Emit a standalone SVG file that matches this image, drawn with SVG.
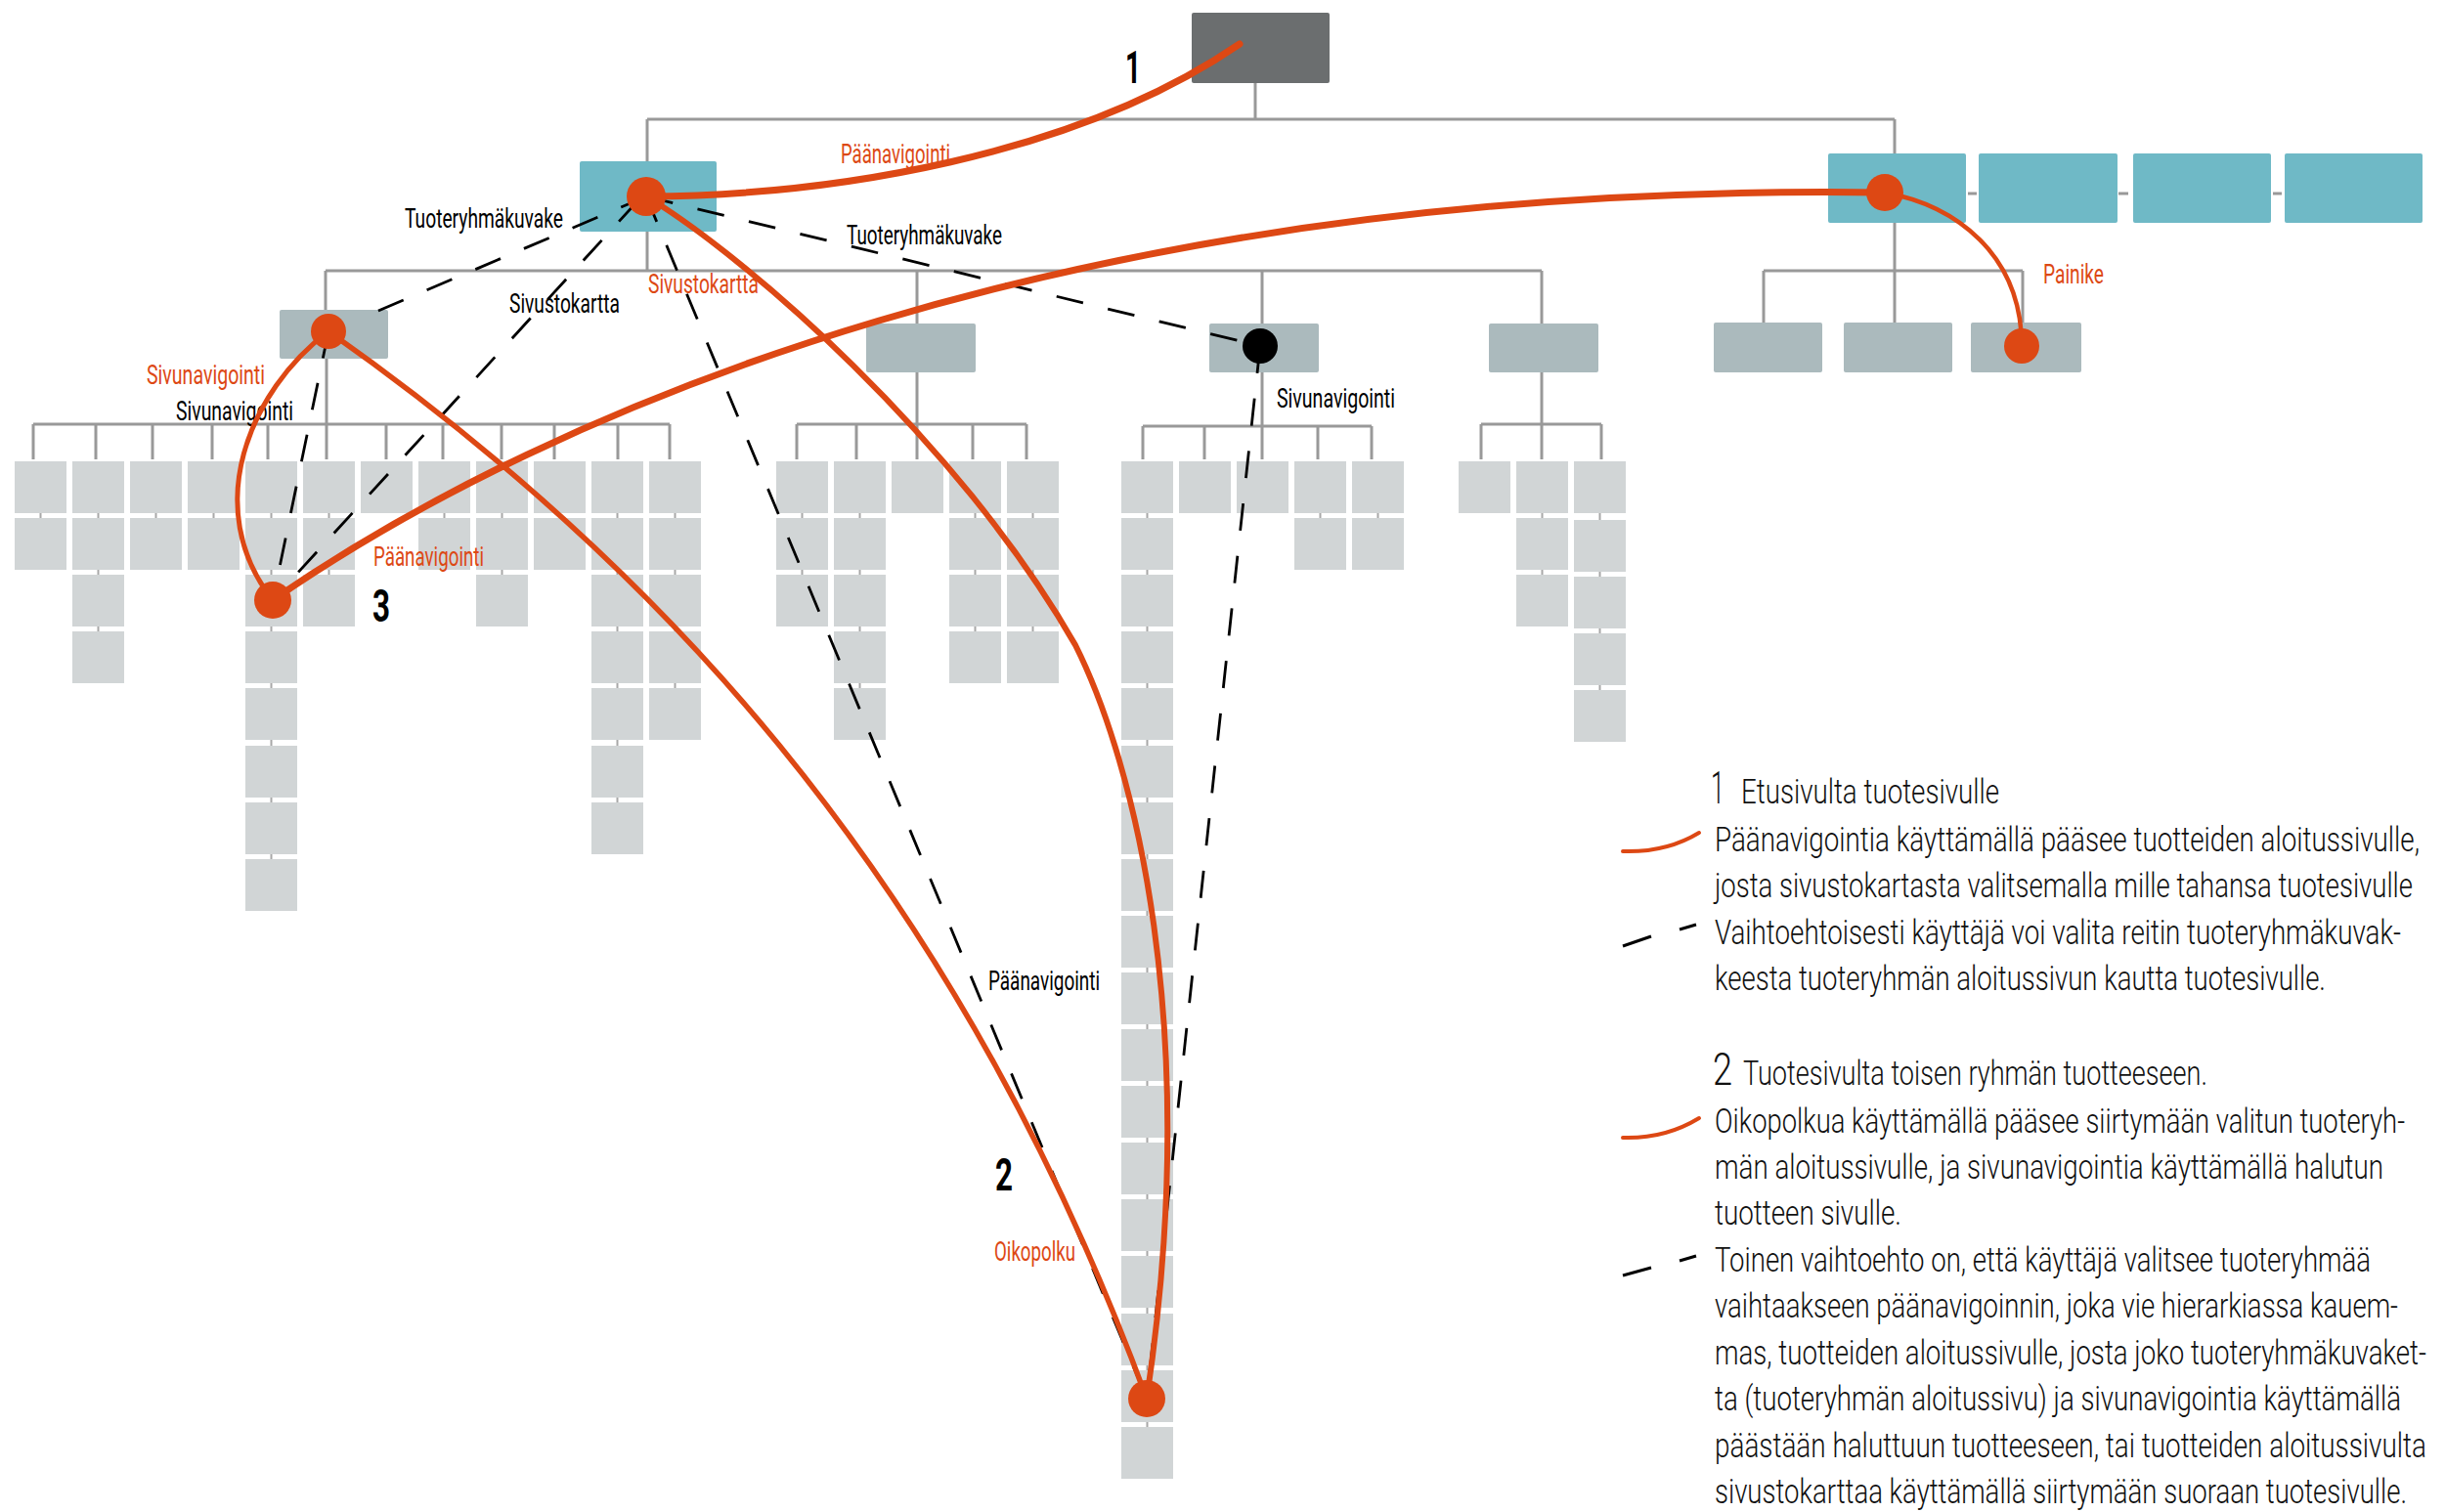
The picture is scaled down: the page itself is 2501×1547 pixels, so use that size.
<svg xmlns="http://www.w3.org/2000/svg" width="2501" height="1547" viewBox="0 0 2501 1547">
<style>
.top{fill:#6b6e6f}
.grp{fill:#6fb9c6}
.sub{fill:#abbabd}
.leaf{fill:#d1d5d6}
.tree{stroke:#999;stroke-width:3;fill:none}
.gap{stroke:#a8a8a8;stroke-width:2;fill:none}
.route{stroke:#dd4814;stroke-width:6;fill:none;stroke-linecap:round}
.alt{stroke:#000;stroke-width:2.8;stroke-dasharray:28 26;fill:none}
.dot{fill:#dd4814}
.lbl{font-family:Roboto,"Liberation Sans",sans-serif;font-size:28px;fill:#000}
.red{fill:#dd4814}
.num{font-family:Roboto,"Liberation Sans",sans-serif;font-size:46px;font-weight:bold;fill:#000}
.leg{font-family:Roboto,"Liberation Sans",sans-serif;font-size:35px;font-weight:300;fill:#111}
.legnum{font-family:Roboto,"Liberation Sans",sans-serif;font-size:47px;font-weight:300;fill:#111}
</style>
<rect width="2501" height="1547" fill="#fff"/>

<!-- tree structure lines -->
<g id="connectors">
<path class="tree" d="M1284 85V122M662 122H1938M662 122V165M1938 122V157M662 237V277M333 277H1577M333 277V317M938 277V331M1291 277V331M1577 277V331M1938 228V277M1804 277H2069M1804 277V330M1938 277V330M2069 277V330M2013 198H2022M2167 198H2177M2325 198H2334"/>
<path class="tree" d="M334 367V434M34 434H685M34 434V470M98 434V470M156 434V470M217 434V470M274 434V470M334 434V470M395 434V470M453 434V470M513 434V470M567 434V470M632 434V470M685 434V470"/>
<path class="tree" d="M938 381V434M815 434H1050M815 434V470M876 434V470M938 434V470M995 434V470M1050 434V470"/>
<path class="tree" d="M1291 381V436M1169 436H1403M1169 436V470M1232 436V470M1291 436V470M1348 436V470M1403 436V470"/>
<path class="tree" d="M1577 381V434M1515 434H1638M1515 434V470M1577 434V470M1638 434V470"/>
<path class="gap" d="M41.5 500V540M100.5 500V656M159.5 500V540M218.5 500V540M277.5 500V889M336.5 500V598M454.5 500V540M513.5 500V598M572.5 500V540M631.5 500V831M690.5 500V714M820.5 500V598M879.5 500V714M997.5 500V656M1056.5 500V656M1173.5 500V1470M1350.5 500V540M1409.5 500V540M1577.5 500V598M1636.5 500V714"/>
</g>

<!-- home page -->
<g id="home"><rect class="top" x="1219" y="13" width="141" height="72" rx="2"/></g>

<!-- product group level -->
<g id="products"><rect class="grp" x="593" y="165" width="140" height="72" rx="2"/></g>
<g id="section-b"><rect class="grp" x="1870" y="157" width="141" height="71" rx="2"/></g>
<g id="section-c"><rect class="grp" x="2024" y="157" width="142" height="71" rx="2"/></g>
<g id="section-d"><rect class="grp" x="2182" y="157" width="141" height="71" rx="2"/></g>
<g id="section-e"><rect class="grp" x="2337" y="157" width="141" height="71" rx="2"/></g>

<!-- group start pages -->
<g id="group-a"><rect class="sub" x="286" y="317" width="111" height="50" rx="2"/></g>
<g id="group-b"><rect class="sub" x="886" y="331" width="112" height="50" rx="2"/></g>
<g id="group-c"><rect class="sub" x="1237" y="331" width="112" height="50" rx="2"/></g>
<g id="group-d"><rect class="sub" x="1523" y="331" width="112" height="50" rx="2"/></g>
<g id="sub-b1"><rect class="sub" x="1753" y="330" width="111" height="51" rx="2"/></g>
<g id="sub-b2"><rect class="sub" x="1886" y="330" width="111" height="51" rx="2"/></g>
<g id="sub-b3"><rect class="sub" x="2016" y="330" width="113" height="51" rx="2"/></g>

<!-- product pages, group A -->
<g id="a1-1"><rect class="leaf" x="15" y="472" width="53" height="53"/></g>
<g id="a1-2"><rect class="leaf" x="15" y="530" width="53" height="53"/></g>
<g id="a2-1"><rect class="leaf" x="74" y="472" width="53" height="53"/></g>
<g id="a2-2"><rect class="leaf" x="74" y="530" width="53" height="53"/></g>
<g id="a2-3"><rect class="leaf" x="74" y="588" width="53" height="53"/></g>
<g id="a2-4"><rect class="leaf" x="74" y="646" width="53" height="53"/></g>
<g id="a3-1"><rect class="leaf" x="133" y="472" width="53" height="53"/></g>
<g id="a3-2"><rect class="leaf" x="133" y="530" width="53" height="53"/></g>
<g id="a4-1"><rect class="leaf" x="192" y="472" width="53" height="53"/></g>
<g id="a4-2"><rect class="leaf" x="192" y="530" width="53" height="53"/></g>
<g id="a5-1"><rect class="leaf" x="251" y="472" width="53" height="53"/></g>
<g id="a5-2"><rect class="leaf" x="251" y="530" width="53" height="53"/></g>
<g id="a5-3"><rect class="leaf" x="251" y="588" width="53" height="53"/></g>
<g id="a5-4"><rect class="leaf" x="251" y="646" width="53" height="53"/></g>
<g id="a5-5"><rect class="leaf" x="251" y="704" width="53" height="53"/></g>
<g id="a5-6"><rect class="leaf" x="251" y="763" width="53" height="53"/></g>
<g id="a5-7"><rect class="leaf" x="251" y="821" width="53" height="53"/></g>
<g id="a5-8"><rect class="leaf" x="251" y="879" width="53" height="53"/></g>
<g id="a6-1"><rect class="leaf" x="310" y="472" width="53" height="53"/></g>
<g id="a6-2"><rect class="leaf" x="310" y="530" width="53" height="53"/></g>
<g id="a6-3"><rect class="leaf" x="310" y="588" width="53" height="53"/></g>
<g id="a7-1"><rect class="leaf" x="369" y="472" width="53" height="53"/></g>
<g id="a8-1"><rect class="leaf" x="428" y="472" width="53" height="53"/></g>
<g id="a8-2"><rect class="leaf" x="428" y="530" width="53" height="53"/></g>
<g id="a9-1"><rect class="leaf" x="487" y="472" width="53" height="53"/></g>
<g id="a9-2"><rect class="leaf" x="487" y="530" width="53" height="53"/></g>
<g id="a9-3"><rect class="leaf" x="487" y="588" width="53" height="53"/></g>
<g id="a10-1"><rect class="leaf" x="546" y="472" width="53" height="53"/></g>
<g id="a10-2"><rect class="leaf" x="546" y="530" width="53" height="53"/></g>
<g id="a11-1"><rect class="leaf" x="605" y="472" width="53" height="53"/></g>
<g id="a11-2"><rect class="leaf" x="605" y="530" width="53" height="53"/></g>
<g id="a11-3"><rect class="leaf" x="605" y="588" width="53" height="53"/></g>
<g id="a11-4"><rect class="leaf" x="605" y="646" width="53" height="53"/></g>
<g id="a11-5"><rect class="leaf" x="605" y="704" width="53" height="53"/></g>
<g id="a11-6"><rect class="leaf" x="605" y="763" width="53" height="53"/></g>
<g id="a11-7"><rect class="leaf" x="605" y="821" width="53" height="53"/></g>
<g id="a12-1"><rect class="leaf" x="664" y="472" width="53" height="53"/></g>
<g id="a12-2"><rect class="leaf" x="664" y="530" width="53" height="53"/></g>
<g id="a12-3"><rect class="leaf" x="664" y="588" width="53" height="53"/></g>
<g id="a12-4"><rect class="leaf" x="664" y="646" width="53" height="53"/></g>
<g id="a12-5"><rect class="leaf" x="664" y="704" width="53" height="53"/></g>

<!-- product pages, group B -->
<g id="b1-1"><rect class="leaf" x="794" y="472" width="53" height="53"/></g>
<g id="b1-2"><rect class="leaf" x="794" y="530" width="53" height="53"/></g>
<g id="b1-3"><rect class="leaf" x="794" y="588" width="53" height="53"/></g>
<g id="b2-1"><rect class="leaf" x="853" y="472" width="53" height="53"/></g>
<g id="b2-2"><rect class="leaf" x="853" y="530" width="53" height="53"/></g>
<g id="b2-3"><rect class="leaf" x="853" y="588" width="53" height="53"/></g>
<g id="b2-4"><rect class="leaf" x="853" y="646" width="53" height="53"/></g>
<g id="b2-5"><rect class="leaf" x="853" y="704" width="53" height="53"/></g>
<g id="b3-1"><rect class="leaf" x="912" y="472" width="53" height="53"/></g>
<g id="b4-1"><rect class="leaf" x="971" y="472" width="53" height="53"/></g>
<g id="b4-2"><rect class="leaf" x="971" y="530" width="53" height="53"/></g>
<g id="b4-3"><rect class="leaf" x="971" y="588" width="53" height="53"/></g>
<g id="b4-4"><rect class="leaf" x="971" y="646" width="53" height="53"/></g>
<g id="b5-1"><rect class="leaf" x="1030" y="472" width="53" height="53"/></g>
<g id="b5-2"><rect class="leaf" x="1030" y="530" width="53" height="53"/></g>
<g id="b5-3"><rect class="leaf" x="1030" y="588" width="53" height="53"/></g>
<g id="b5-4"><rect class="leaf" x="1030" y="646" width="53" height="53"/></g>

<!-- product pages, group C -->
<g id="c1-1"><rect class="leaf" x="1147" y="472" width="53" height="53"/></g>
<g id="c1-2"><rect class="leaf" x="1147" y="530" width="53" height="53"/></g>
<g id="c1-3"><rect class="leaf" x="1147" y="588" width="53" height="53"/></g>
<g id="c1-4"><rect class="leaf" x="1147" y="646" width="53" height="53"/></g>
<g id="c1-5"><rect class="leaf" x="1147" y="704" width="53" height="53"/></g>
<g id="c1-6"><rect class="leaf" x="1147" y="763" width="53" height="53"/></g>
<g id="c1-7"><rect class="leaf" x="1147" y="821" width="53" height="53"/></g>
<g id="c1-8"><rect class="leaf" x="1147" y="879" width="53" height="53"/></g>
<g id="c1-9"><rect class="leaf" x="1147" y="937" width="53" height="53"/></g>
<g id="c1-10"><rect class="leaf" x="1147" y="995" width="53" height="53"/></g>
<g id="c1-11"><rect class="leaf" x="1147" y="1053" width="53" height="53"/></g>
<g id="c1-12"><rect class="leaf" x="1147" y="1111" width="53" height="53"/></g>
<g id="c1-13"><rect class="leaf" x="1147" y="1169" width="53" height="53"/></g>
<g id="c1-14"><rect class="leaf" x="1147" y="1227" width="53" height="53"/></g>
<g id="c1-15"><rect class="leaf" x="1147" y="1285" width="53" height="53"/></g>
<g id="c1-16"><rect class="leaf" x="1147" y="1344" width="53" height="53"/></g>
<g id="c1-17"><rect class="leaf" x="1147" y="1402" width="53" height="53"/></g>
<g id="c1-18"><rect class="leaf" x="1147" y="1460" width="53" height="53"/></g>
<g id="c2-1"><rect class="leaf" x="1206" y="472" width="53" height="53"/></g>
<g id="c3-1"><rect class="leaf" x="1265" y="472" width="53" height="53"/></g>
<g id="c4-1"><rect class="leaf" x="1324" y="472" width="53" height="53"/></g>
<g id="c4-2"><rect class="leaf" x="1324" y="530" width="53" height="53"/></g>
<g id="c5-1"><rect class="leaf" x="1383" y="472" width="53" height="53"/></g>
<g id="c5-2"><rect class="leaf" x="1383" y="530" width="53" height="53"/></g>

<!-- product pages, group D -->
<g id="d1-1"><rect class="leaf" x="1492" y="472" width="53" height="53"/></g>
<g id="d2-1"><rect class="leaf" x="1551" y="472" width="53" height="53"/></g>
<g id="d2-2"><rect class="leaf" x="1551" y="530" width="53" height="53"/></g>
<g id="d2-3"><rect class="leaf" x="1551" y="588" width="53" height="53"/></g>
<g id="d3-1"><rect class="leaf" x="1610" y="472" width="53" height="53"/></g>
<g id="d3-2"><rect class="leaf" x="1610" y="532" width="53" height="53"/></g>
<g id="d3-3"><rect class="leaf" x="1610" y="590" width="53" height="53"/></g>
<g id="d3-4"><rect class="leaf" x="1610" y="648" width="53" height="53"/></g>
<g id="d3-5"><rect class="leaf" x="1610" y="706" width="53" height="53"/></g>

<!-- path labels -->
<g id="labels">
<text class="lbl" x="414" y="233" textLength="162" lengthAdjust="spacingAndGlyphs">Tuoteryhmäkuvake</text>
<text class="lbl" x="866" y="250" textLength="159" lengthAdjust="spacingAndGlyphs">Tuoteryhmäkuvake</text>
<text class="lbl" x="521" y="320" textLength="113" lengthAdjust="spacingAndGlyphs">Sivustokartta</text>
<text class="lbl red" x="663" y="300" textLength="113" lengthAdjust="spacingAndGlyphs">Sivustokartta</text>
<text class="lbl red" x="860" y="167" textLength="112" lengthAdjust="spacingAndGlyphs">Päänavigointi</text>
<text class="lbl red" x="150" y="393" textLength="121" lengthAdjust="spacingAndGlyphs">Sivunavigointi</text>
<text class="lbl" x="180" y="430" textLength="120" lengthAdjust="spacingAndGlyphs">Sivunavigointi</text>
<text class="lbl" x="1306" y="417" textLength="121" lengthAdjust="spacingAndGlyphs">Sivunavigointi</text>
<text class="lbl red" x="382" y="579" textLength="113" lengthAdjust="spacingAndGlyphs">Päänavigointi</text>
<text class="lbl" x="1011" y="1013" textLength="114" lengthAdjust="spacingAndGlyphs">Päänavigointi</text>
<text class="lbl red" x="1017" y="1290" textLength="83" lengthAdjust="spacingAndGlyphs">Oikopolku</text>
<text class="lbl red" x="2090" y="290" textLength="62" lengthAdjust="spacingAndGlyphs">Painike</text>
<text class="num" x="1151" y="85" textLength="16" lengthAdjust="spacingAndGlyphs">1</text>
<text class="num" x="1018" y="1218" textLength="18" lengthAdjust="spacingAndGlyphs">2</text>
<text class="num" x="381" y="636" textLength="18" lengthAdjust="spacingAndGlyphs">3</text>
</g>

<!-- navigation routes -->
<g id="routes">
<path class="alt" d="M661 201L380 321"/>
<path class="alt" d="M661 201L1289 354"/>
<path class="alt" d="M652 206L279 614"/>
<path class="alt" d="M336 339L279 614"/>
<path class="alt" d="M661 201L1173 1431"/>
<path class="alt" d="M1289 354L1173 1431"/>
<path class="route" style="stroke-width:7" d="M661 201C850 200 1100 160 1268 45"/>
<path class="route" style="stroke-width:7" d="M279 614C560 420 1100 185 1928 197"/>
<path class="route" style="stroke-width:4.5" d="M1928 197C2000 210 2068 260 2068 354"/>
<path class="route" style="stroke-width:5" d="M336 339C255 400 205 520 279 614"/>
<path class="route" style="stroke-width:5.5" d="M336 339C650 560 970 880 1173 1431"/>
<path class="route" d="M661 201C760 260 980 450 1100 660C1160 780 1230 1050 1173 1431"/>
<circle class="dot" cx="661" cy="201" r="20"/>
<circle class="dot" cx="1928" cy="197" r="19"/>
<circle class="dot" cx="2068" cy="354" r="18"/>
<circle class="dot" cx="336" cy="339" r="18"/>
<circle class="dot" cx="279" cy="614" r="19"/>
<circle class="dot" cx="1173" cy="1431" r="19"/>
<circle cx="1289" cy="354" r="18" fill="#000"/>
</g>

<!-- legend -->
<g id="legend">
<path class="route" style="stroke-width:4" d="M1660 871C1690 872 1715 866 1738 852"/>
<path class="route" style="stroke-width:4" d="M1660 1164C1690 1165 1715 1158 1738 1144"/>
<path stroke="#000" stroke-width="3" d="M1660 968L1689 958M1718 951L1735 946M1660 1305L1689 1297M1718 1290L1735 1285"/>
<g transform="matrix(0.72 0 0 1 1754 0)">
<text class="legnum" x="-5.6" y="822" textLength="19.4" lengthAdjust="spacingAndGlyphs">1</text>
<text class="leg" x="37.5" y="822" textLength="366.7" lengthAdjust="spacingAndGlyphs">Etusivulta tuotesivulle</text>
<text class="leg" x="0" y="871" textLength="1001.4" lengthAdjust="spacingAndGlyphs">Päänavigointia käyttämällä pääsee tuotteiden aloitussivulle,</text>
<text class="leg" x="0" y="918" textLength="991.7" lengthAdjust="spacingAndGlyphs">josta sivustokartasta valitsemalla mille tahansa tuotesivulle</text>
<text class="leg" x="0" y="966" textLength="975" lengthAdjust="spacingAndGlyphs">Vaihtoehtoisesti käyttäjä voi valita reitin tuoteryhmäkuvak-</text>
<text class="leg" x="0" y="1013" textLength="868" lengthAdjust="spacingAndGlyphs">keesta tuoteryhmän aloitussivun kautta tuotesivulle.</text>
<text class="legnum" x="-2.8" y="1110" textLength="27.8" lengthAdjust="spacingAndGlyphs">2</text>
<text class="leg" x="40.3" y="1110" textLength="659.7" lengthAdjust="spacingAndGlyphs">Tuotesivulta toisen ryhmän tuotteeseen.</text>
<text class="leg" x="0" y="1159" textLength="980.6" lengthAdjust="spacingAndGlyphs">Oikopolkua käyttämällä pääsee siirtymään valitun tuoteryh-</text>
<text class="leg" x="0" y="1206" textLength="950" lengthAdjust="spacingAndGlyphs">män aloitussivulle, ja sivunavigointia käyttämällä halutun</text>
<text class="leg" x="0" y="1253" textLength="265.3" lengthAdjust="spacingAndGlyphs">tuotteen sivulle.</text>
<text class="leg" x="0" y="1301" textLength="932" lengthAdjust="spacingAndGlyphs">Toinen vaihtoehto on, että käyttäjä valitsee tuoteryhmää</text>
<text class="leg" x="0" y="1348" textLength="970.8" lengthAdjust="spacingAndGlyphs">vaihtaakseen päänavigoinnin, joka vie hierarkiassa kauem-</text>
<text class="leg" x="0" y="1396" textLength="1011" lengthAdjust="spacingAndGlyphs">mas, tuotteiden aloitussivulle, josta joko tuoteryhmäkuvaket-</text>
<text class="leg" x="0" y="1443" textLength="975" lengthAdjust="spacingAndGlyphs">ta (tuoteryhmän aloitussivu) ja sivunavigointia käyttämällä</text>
<text class="leg" x="0" y="1491" textLength="1011" lengthAdjust="spacingAndGlyphs">päästään haluttuun tuotteeseen, tai tuotteiden aloitussivulta</text>
<text class="leg" x="0" y="1538" textLength="983.3" lengthAdjust="spacingAndGlyphs">sivustokarttaa käyttämällä siirtymään suoraan tuotesivulle.</text>
</g>
</g>
</svg>
